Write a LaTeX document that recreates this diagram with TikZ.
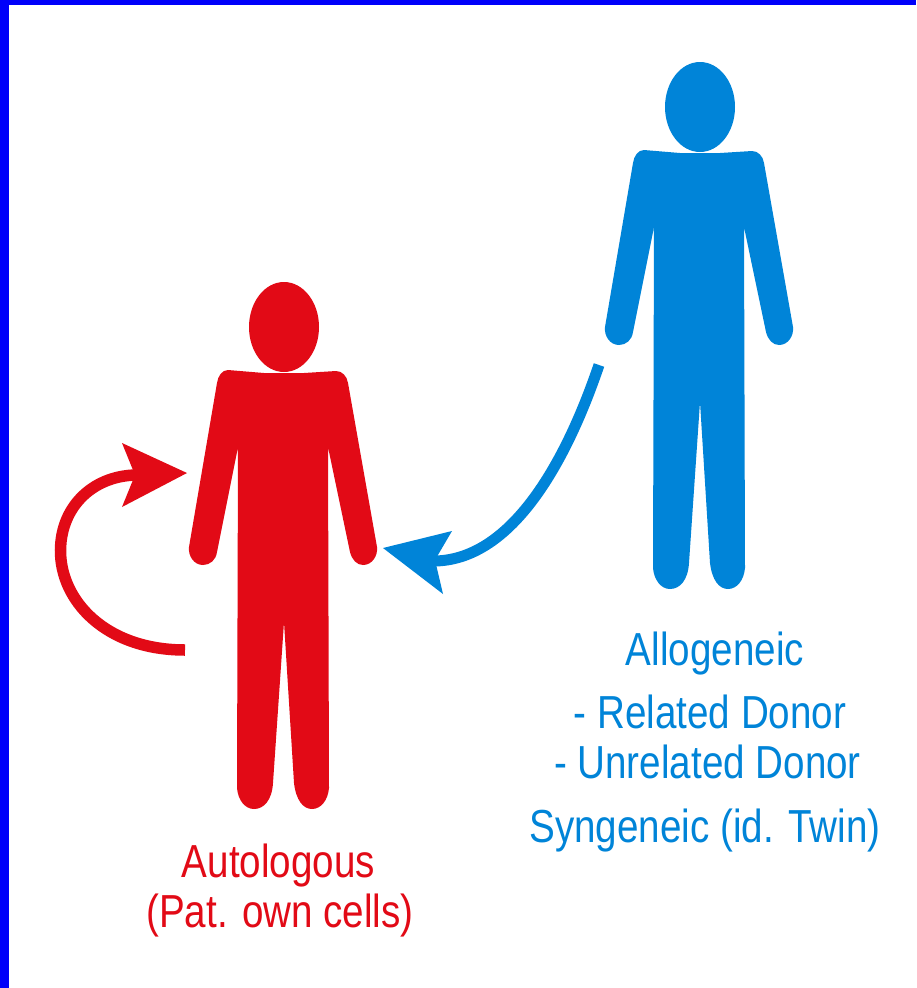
\documentclass[tikz,border=0pt]{standalone}
\usepackage{fontspec}
\setmainfont{Liberation Sans}
\usepackage{tikz}
\definecolor{bordercol}{RGB}{0,0,250}
\definecolor{redcol}{RGB}{226,10,22}
\definecolor{bluecol}{RGB}{0,132,216}
\newcommand{\person}[1]{
	\fill[#1] (-56,0) .. controls (-62,0) and (-66,-6) .. (-67,-13)
		-- (-95,-177) .. controls (-96,-186) and (-90,-195) .. (-81,-195)
		.. controls (-74,-195) and (-68,-190) .. (-67,-182)
		-- (-46,-77) -- (-47,-418) .. controls (-46,-430) and (-39,-439) .. (-30,-439)
		.. controls (-20,-439) and (-12,-430) .. (-11,-413)
		-- (0,-252) -- (10,-413) .. controls (12,-430) and (19,-439) .. (28,-439)
		.. controls (37,-439) and (44,-430) .. (45,-418)
		-- (44,-77) -- (66,-182) .. controls (68,-190) and (73,-195) .. (79,-195)
		.. controls (88,-195) and (94,-186) .. (93,-177)
		-- (64,-13) .. controls (63,-6) and (58,-1) .. (52,-1) -- (20,-3) -- (-20,-3) -- cycle;
	\fill[#1] (0,43) ellipse (35 and 45);
}
\tikzset{lbl/.style={anchor=base, yscale=1.2, font=\fontsize{38.6}{42}\selectfont}}
\begin{document}
\begin{tikzpicture}[x=1pt,y=1pt]
	\useasboundingbox (0,0) rectangle (916,-988);
	\fill[white] (0,0) rectangle (916,-988);
	\fill[bordercol] (0,0) rectangle (916,-5);
	\fill[bordercol] (0,0) rectangle (9,-988);
	% red person
	\begin{scope}[shift={(284,-370)}]
		\person{redcol}
	\end{scope}
	% blue person
	\begin{scope}[shift={(700,-150)}]
		\person{bluecol}
	\end{scope}
	% arrows
	\coordinate (selfstart) at (185,-650);
	\coordinate (selftip) at (187,-473);
	\coordinate (donorstart) at (599,-365);
	\coordinate (donortip) at (383,-548);
	\draw[redcol, line width=11.5pt] (selfstart) .. controls (105,-650) and (60,-600) .. (60.5,-550)
		.. controls (61,-505) and (95,-474) .. (140,-475);
	\fill[redcol] (selftip) -- (122,-443) -- (135,-475) -- (122,-507) -- cycle;
	\draw[bluecol, line width=11pt] (donorstart) .. controls (565,-465) and (510,-562) .. (432,-561);
	\fill[bluecol] (donortip) -- (452,-531) -- (435,-560) -- (443,-594) -- cycle;
	% labels
	\node[lbl, redcol] (autolabel) at (278.5,-877) {Autologous};
	\node[lbl, redcol] (patlabel) at (280,-927) {(Pat. own cells)};
	\node[lbl, bluecol] (allolabel) at (715,-665) {Allogeneic};
	\node[lbl, bluecol] (rellabel) at (710,-728) {- Related Donor};
	\node[lbl, bluecol] (unrellabel) at (707.5,-778) {- Unrelated Donor};
	\node[lbl, bluecol] (synlabel) at (705,-842) {Syngeneic (id. Twin)};
\end{tikzpicture}
\end{document}
